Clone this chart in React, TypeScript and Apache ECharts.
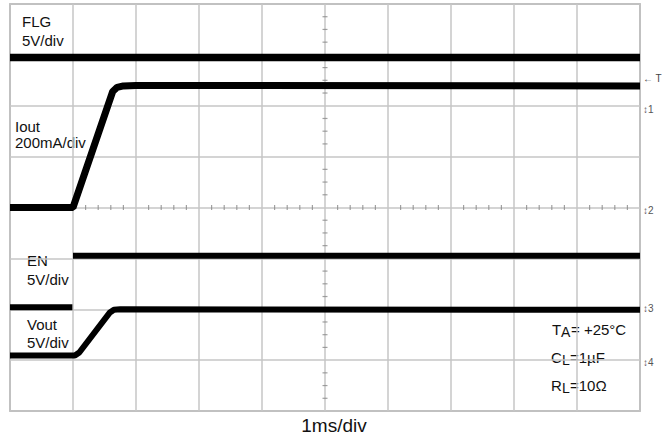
import React, { useEffect, useRef } from "react";
import * as echarts from "echarts";

// Time axis in ms (1 ms/div, 10 div), vertical in divisions (8 div)
const flgT = [0, 10];
const flgV = [6.95, 6.95];

const ioutT = [0, 1.0, 1.63, 1.7, 1.8, 2.0, 10];
const ioutV = [4.0, 4.0, 6.28, 6.36, 6.39, 6.4, 6.39];

const enT = [0, 0.99, 0.995, 1.0, 10];
const enV: (number | null)[] = [2.04, 2.04, null, 3.05, 3.05];

const voutT = [0, 1.03, 1.1, 1.58, 1.65, 1.75, 10];
const voutV = [1.09, 1.09, 1.15, 1.93, 1.99, 2.0, 1.99];

const pair = (t: number[], v: (number | null)[]) =>
  t.map((x, i) => (v[i] === null ? [x, "-"] : [x, v[i]]));

// centre-cross minor ticks (scope graticule)
const hTicks: number[][] = [];
for (let k = 0; k <= 50; k++) if (k % 5 !== 0) hTicks.push([k / 5, 4]);
const vTicks: number[][] = [];
for (let k = 0; k <= 32; k++) if (k % 4 !== 0) vTicks.push([5, k / 4]);

const FONT = '"Liberation Sans", Arial, sans-serif';

const txt = (text: string, x: number, y: number, size = 15, align = "left", fill = "#111") => ({
  type: "text",
  x,
  y,
  silent: true,
  style: {
    text,
    fill,
    font: `${size}px ${FONT}`,
    textAlign: align,
    textVerticalAlign: "middle",
  },
});

export default function App() {
  const ref = useRef<HTMLDivElement>(null);
  useEffect(() => {
    if (!ref.current) return;
    const chart = echarts.init(ref.current, null, { renderer: "svg" });
    const lineSeries = (name: string, data: any[], w: number) => ({
      name,
      type: "line",
      data,
      showSymbol: false,
      symbol: "none",
      lineStyle: { color: "#000", width: w },
      connectNulls: false,
      z: 5,
    });
    chart.setOption({
      animation: false,
      backgroundColor: "#fff",
      grid: {
        left: 10,
        right: 23,
        top: 4,
        bottom: 27,
        show: true,
        borderColor: "#9a9a9a",
        borderWidth: 1.5,
        backgroundColor: "#fff",
      },
      xAxis: {
        type: "value",
        min: 0,
        max: 10,
        interval: 1,
        axisLine: { show: false },
        axisTick: { show: false },
        axisLabel: { show: false },
        splitLine: { show: true, lineStyle: { color: "#c6c6c6", width: 1.5 } },
      },
      yAxis: {
        type: "value",
        min: 0,
        max: 8,
        interval: 1,
        axisLine: { show: false },
        axisTick: { show: false },
        axisLabel: { show: false },
        splitLine: { show: true, lineStyle: { color: "#c6c6c6", width: 1.5 } },
      },
      series: [
        {
          type: "scatter",
          data: hTicks,
          symbol: "rect",
          symbolSize: [1.2, 5],
          itemStyle: { color: "#8a8a8a" },
          silent: true,
          z: 2,
        },
        {
          type: "scatter",
          data: vTicks,
          symbol: "rect",
          symbolSize: [5, 1.2],
          itemStyle: { color: "#8a8a8a" },
          silent: true,
          z: 2,
        },
        lineSeries("FLG", pair(flgT, flgV), 7.5),
        lineSeries("Iout", pair(ioutT, ioutV), 7),
        lineSeries("EN", pair(enT, enV), 6),
        lineSeries("Vout", pair(voutT, voutV), 6),
      ],
      graphic: [
        txt("FLG", 22, 21),
        txt("5V/div", 22, 40),
        txt("Iout", 15, 126),
        txt("200mA/div", 15, 142),
        txt("EN", 27, 260),
        txt("5V/div", 27, 279),
        txt("Vout", 27, 324),
        txt("5V/div", 27, 342),
        txt("T", 552, 329),
        txt("A", 561, 332, 14),
        txt("= +25°C", 571, 329),
        txt("C", 551, 357),
        txt("L", 562, 360, 14),
        txt("=1µF", 570, 357),
        txt("R", 551, 385),
        txt("L", 562, 388, 14),
        txt("=10Ω", 570, 385),
        txt("1ms/div", 334, 425, 19, "center"),
        txt("← T", 643, 78, 10, "left", "#444"),
        txt("↕1", 643, 109, 10, "left", "#555"),
        txt("↕2", 643, 210, 10, "left", "#555"),
        txt("↕3", 643, 308, 10, "left", "#555"),
        txt("↕4", 643, 362, 10, "left", "#555"),
      ],
    });
    return () => chart.dispose();
  }, []);
  return (
    <div
      ref={ref}
      style={{ position: "fixed", left: 0, top: 0, width: 663, height: 438 }}
    />
  );
}
